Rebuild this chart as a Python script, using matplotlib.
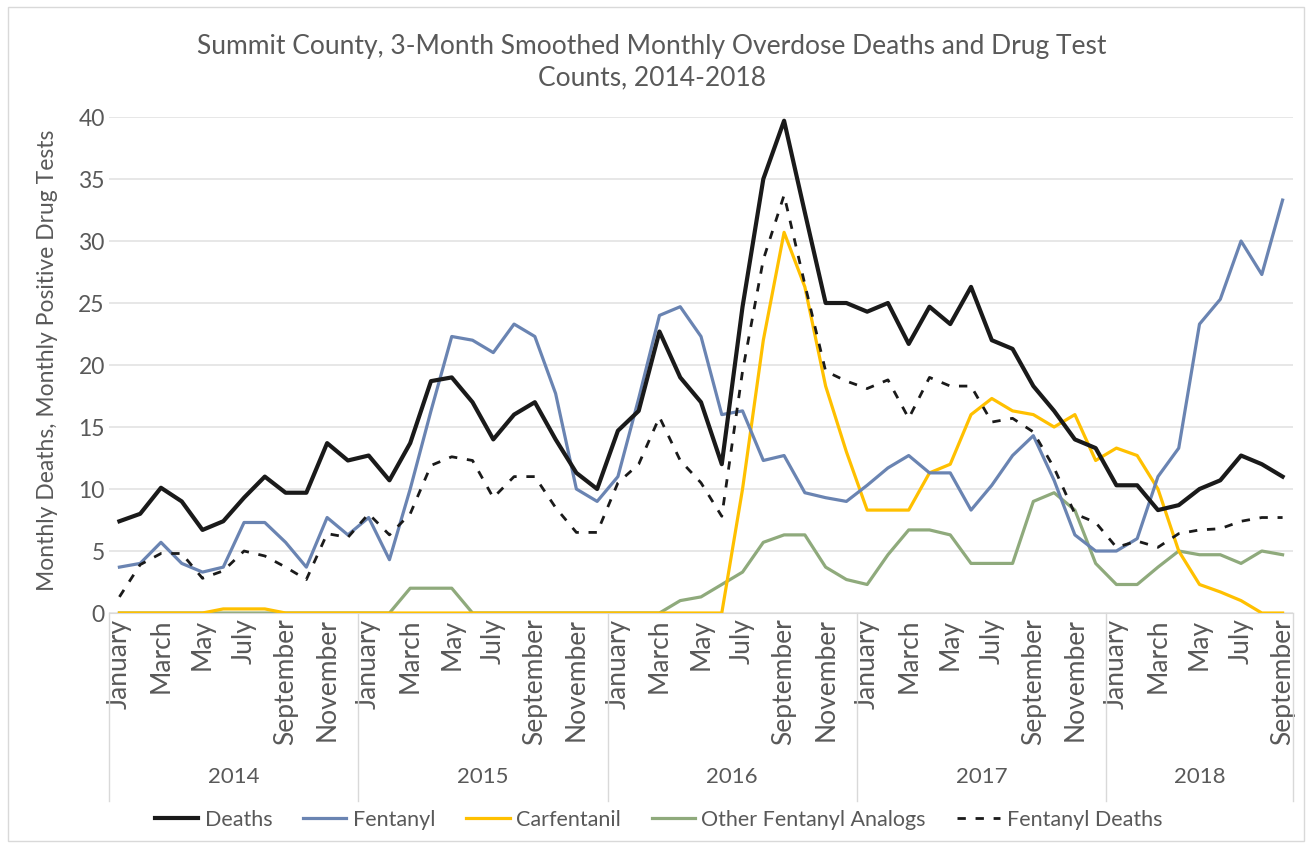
import matplotlib.pyplot as plt
from matplotlib.patches import Rectangle
from matplotlib.transforms import blended_transform_factory

month_names = ['January', 'February', 'March', 'April', 'May', 'June', 'July',
               'August', 'September', 'October', 'November', 'December']
years = ['2014', '2015', '2016', '2017', '2018']
months_in_year = [12, 12, 12, 12, 9]

deaths = [7.4, 8.0, 10.1, 9.0, 6.7, 7.4, 9.3, 11.0, 9.7, 9.7, 13.7, 12.3,
          12.7, 10.7, 13.7, 18.7, 19.0, 17.0, 14.0, 16.0, 17.0, 14.0, 11.3, 10.0,
          14.7, 16.3, 22.7, 19.0, 17.0, 12.0, 24.7, 35.0, 39.7, 32.3, 25.0, 25.0,
          24.3, 25.0, 21.7, 24.7, 23.3, 26.3, 22.0, 21.3, 18.3, 16.3, 14.0, 13.3,
          10.3, 10.3, 8.3, 8.7, 10.0, 10.7, 12.7, 12.0, 11.0]
fentanyl = [3.7, 4.0, 5.7, 4.0, 3.3, 3.7, 7.3, 7.3, 5.7, 3.7, 7.7, 6.3,
            7.7, 4.3, 10.0, 16.3, 22.3, 22.0, 21.0, 23.3, 22.3, 17.7, 10.0, 9.0,
            11.0, 17.3, 24.0, 24.7, 22.3, 16.0, 16.3, 12.3, 12.7, 9.7, 9.3, 9.0,
            10.3, 11.7, 12.7, 11.3, 11.3, 8.3, 10.3, 12.7, 14.3, 10.7, 6.3, 5.0,
            5.0, 6.0, 11.0, 13.3, 23.3, 25.3, 30.0, 27.3, 33.3]
carfentanil = [0, 0, 0, 0, 0, 0.33, 0.33, 0.33, 0, 0, 0, 0,
               0, 0, 0, 0, 0, 0, 0, 0, 0, 0, 0, 0,
               0, 0, 0, 0, 0, 0, 10.0, 22.0, 30.7, 26.3, 18.3, 13.0,
               8.3, 8.3, 8.3, 11.3, 12.0, 16.0, 17.3, 16.3, 16.0, 15.0, 16.0, 12.3,
               13.3, 12.7, 10.0, 5.0, 2.3, 1.7, 1.0, 0, 0]
other_analogs = [0, 0, 0, 0, 0, 0, 0, 0, 0, 0, 0, 0,
                 0, 0, 2.0, 2.0, 2.0, 0, 0, 0, 0, 0, 0, 0,
                 0, 0, 0, 1.0, 1.3, 2.3, 3.3, 5.7, 6.3, 6.3, 3.7, 2.7,
                 2.3, 4.7, 6.7, 6.7, 6.3, 4.0, 4.0, 4.0, 9.0, 9.7, 8.3, 4.0,
                 2.3, 2.3, 3.7, 5.0, 4.7, 4.7, 4.0, 5.0, 4.7]
fentanyl_deaths = [1.3, 3.9, 4.8, 4.8, 2.8, 3.4, 5.0, 4.6, 3.7, 2.7, 6.4, 6.1,
                   8.0, 6.3, 8.0, 11.9, 12.6, 12.3, 9.3, 11.0, 11.0, 8.5, 6.5, 6.5,
                   10.5, 12.0, 15.8, 12.3, 10.5, 7.8, 19.5, 28.5, 33.7, 26.5, 19.5, 18.7,
                   18.1, 18.8, 15.7, 19.0, 18.3, 18.3, 15.4, 15.7, 14.6, 11.7, 8.0, 7.3,
                   5.3, 5.8, 5.3, 6.4, 6.7, 6.8, 7.4, 7.7, 7.7]

plt.rcParams['font.family'] = ['Lato', 'DejaVu Sans']
grey = '#595959'

fig = plt.figure(figsize=(13.12, 8.46), dpi=100)
ax = fig.add_axes([0.0831, 0.2754, 0.9024, 0.5863])

x = list(range(len(deaths)))
ax.plot(x, deaths, color='#1a1a1a', lw=3.0, label='Deaths', zorder=5)
ax.plot(x, fentanyl, color='#6a84b2', lw=2.3, label='Fentanyl', zorder=4)
ax.plot(x, carfentanil, color='#ffc000', lw=2.3, label='Carfentanil', zorder=3)
ax.plot(x, other_analogs, color='#8faa7c', lw=2.3, label='Other Fentanyl Analogs', zorder=2)
ax.plot(x, fentanyl_deaths, color='#1a1a1a', lw=2.0, ls=(0, (3, 3.5)),
        label='Fentanyl Deaths', zorder=6)

ax.set_xlim(-0.5, len(deaths) - 0.5)
ax.set_ylim(0, 40)
ax.set_yticks(range(0, 41, 5))
ax.yaxis.grid(True, color='#e3e3e3', lw=1.2)
ax.set_axisbelow(True)
for s in ['top', 'right', 'left']:
    ax.spines[s].set_visible(False)
ax.spines['bottom'].set_color('#d9d9d9')
ax.tick_params(axis='y', length=0, labelsize=16.5, labelcolor=grey, pad=3)

# month ticks every other month, grouped by year underneath
labels = []
ticks = []
i = 0
for n in months_in_year:
    for m in range(n):
        if m % 2 == 0:
            ticks.append(i)
            labels.append(month_names[m])
        i += 1
ax.set_xticks(ticks)
ax.set_xticklabels(labels, rotation=90, fontsize=19)
ax.tick_params(axis='x', length=0, labelcolor=grey, pad=4)

ax.set_ylabel('Monthly Deaths, Monthly Positive Drug Tests', fontsize=16.5, color=grey)
ax.yaxis.set_label_coords(-0.043, 0.51)

trans = blended_transform_factory(ax.transData, ax.transAxes)
start = -0.5
ax.plot([start, start], [0, -0.38], transform=trans, color='#d9d9d9', lw=1, clip_on=False)
for yr, n in zip(years, months_in_year):
    end = start + n
    ax.text((start + end) / 2, -0.33, yr, transform=trans, ha='center', va='center',
            fontsize=16, color=grey)
    ax.plot([end, end], [0, -0.38], transform=trans, color='#d9d9d9', lw=1, clip_on=False)
    start = end

fig.suptitle('Summit County, 3-Month Smoothed Monthly Overdose Deaths and Drug Test\nCounts, 2014-2018',
             x=0.497, y=0.96, fontsize=19, color=grey, linespacing=1.3)

fig.legend(loc='center', bbox_to_anchor=(0.502, 0.031), ncol=5, frameon=False,
           fontsize=15.5, labelcolor=grey, handlelength=2.0, handletextpad=0.3,
           columnspacing=1.45)

fig.patches.append(Rectangle((0.006, 0.006), 0.988, 0.986, transform=fig.transFigure,
                             fill=False, edgecolor='#d9d9d9', lw=1))

fig.savefig('out.png', dpi=100)
